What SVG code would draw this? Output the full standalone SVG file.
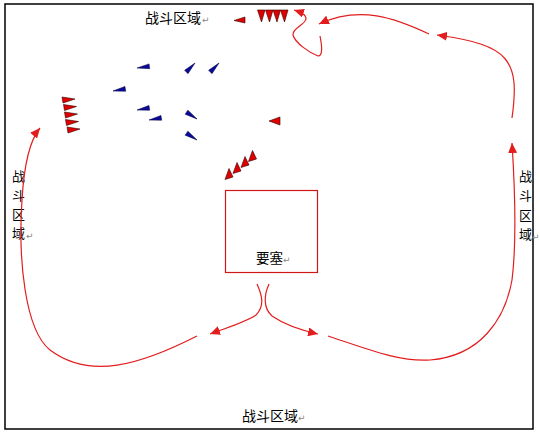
<svg xmlns="http://www.w3.org/2000/svg" width="540" height="435" viewBox="0 0 540 435">
<defs>
<style>
.frame{fill:#fff;stroke:#000;stroke-width:1.5}
.fort{fill:#fff;stroke:#d01818;stroke-width:1.2}
.route{fill:none;stroke:#e31d1d;stroke-width:1.2;marker-end:url(#arr)}
.lbl{font-family:"Noto Sans CJK SC","Liberation Sans",sans-serif;font-size:14px;fill:#000}
.vl{font-family:"Noto Sans CJK SC","Liberation Sans",sans-serif;font-size:13px;fill:#000}
.pm{font-family:"DejaVu Sans",sans-serif;font-size:9px;fill:#888}
.blue{fill:#0a0a9a;stroke:#000040;stroke-width:0.5}
.red{fill:#e00000;stroke:#300;stroke-width:0.6}
</style>
<marker id="arr" markerUnits="userSpaceOnUse" markerWidth="11" markerHeight="9" refX="10" refY="4.5" orient="auto">
<path d="M0,0 L10,4.5 L0,9 Z" fill="#e31d1d"/>
</marker>
<path id="bf" d="M0,0 L12.5,-2.6 L12.5,2.2 Z"/>
<path id="rl" d="M0,0 L13,2 L1,6 Z"/>
<path id="rd" d="M0,0 L7.5,0 L4,12 Z"/>
<path id="rt" d="M0,0 L8,-2.5 L4,-11 Z"/>
</defs>
<rect class="frame" x="5" y="4" width="528" height="425"/>

<g id="labels">
<g id="zone-top"><text class="lbl" x="145" y="23">战斗区域</text><text class="pm" x="202" y="23">↵</text></g>
<g id="zone-left"><text class="vl" x="12" y="181">战</text><text class="vl" x="12" y="200">斗</text><text class="vl" x="12" y="219">区</text><text class="vl" x="12" y="238">域</text><text class="pm" x="26" y="239">↵</text></g>
<g id="zone-right"><text class="vl" x="519" y="181">战</text><text class="vl" x="519" y="200">斗</text><text class="vl" x="519" y="220">区</text><text class="vl" x="519" y="239">域</text><text class="pm" x="532" y="240">↵</text></g>
<g id="zone-bottom"><text class="lbl" x="242" y="421">战斗区域</text><text class="pm" x="298" y="421">↵</text></g>
</g>

<g id="fortress">
<rect class="fort" x="225.5" y="190.5" width="92" height="82"/>
<text class="lbl" x="256" y="263" style="font-size:13.5px">要塞</text><text class="pm" x="283" y="263">↵</text>
</g>

<g id="blue-units" class="blue">
<use href="#bf" transform="translate(137,68) rotate(-7)"/>
<use href="#bf" transform="translate(195,63) rotate(135)"/>
<use href="#bf" transform="translate(219,63) rotate(135)"/>
<use href="#bf" transform="translate(113,91) rotate(-9)"/>
<use href="#bf" transform="translate(137,110) rotate(-9)"/>
<use href="#bf" transform="translate(149,120) rotate(-9)"/>
<use href="#bf" transform="translate(197,119) rotate(214)"/>
<use href="#bf" transform="translate(197,140) rotate(214)"/>
</g>

<g id="red-units" class="red">
<use href="#rl" x="62" y="97"/>
<use href="#rl" x="63.5" y="104.5"/>
<use href="#rl" x="64.5" y="112"/>
<use href="#rl" x="65.5" y="119.5"/>
<use href="#rl" x="67" y="127"/>
<path d="M269,121 L280,117 L280,125 Z"/>
<path d="M234,20.5 L245,17 L245,23 Z"/>
<use href="#rd" x="257.5" y="10"/>
<use href="#rd" x="265.5" y="10"/>
<use href="#rd" x="273" y="10"/>
<use href="#rd" x="280.5" y="10"/>
<use href="#rt" x="225" y="179.5"/>
<use href="#rt" x="233" y="173.5"/>
<use href="#rt" x="241" y="167.5"/>
<use href="#rt" x="248.5" y="161.5"/>
</g>

<g id="connectors">
<path class="route" d="M257,284 C262,295 265,306 256,315 C246,322 226,328 210,334"/>
<path class="route" d="M269,284 C264,295 263,308 272,316 C285,325 300,330 318,334"/>
<path class="route" d="M197,336 C140,365 90,380 50,350 C25,330 18,260 22,200 C24,165 30,140 40,128"/>
<path class="route" d="M328,336 C370,350 400,362 430,360 C480,356 505,320 512,280 C517,240 515,190 512,143"/>
<path class="route" d="M512,118 C520,60 510,45 437,35"/>
<path class="route" d="M429,34 C395,18 360,5 319,24"/>
<path class="route" d="M320,36 C322,46 323,56 318,56 C310,53 295,43 293,35 C292,28 305,25 306,19 C306,14 300,12 294,10"/>
</g>
</svg>
